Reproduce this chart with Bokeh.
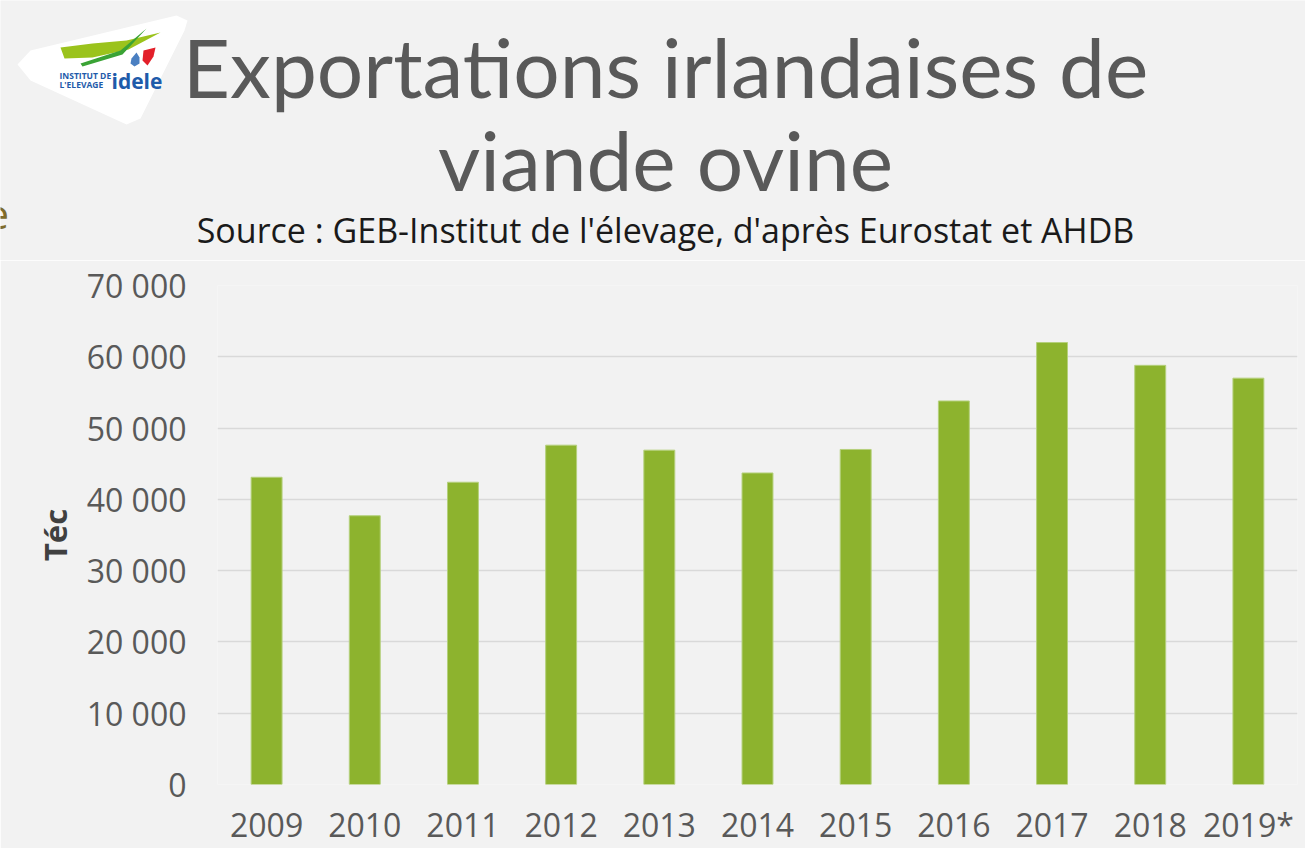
from bokeh.plotting import figure
from bokeh.models import Range1d, FactorRange, FixedTicker, ColumnDataSource
from bokeh.core.properties import value
from bokeh.embed import file_html
from bokeh.resources import INLINE

# ---- data ----
years = ["2009", "2010", "2011", "2012", "2013", "2014", "2015", "2016", "2017", "2018", "2019*"]
exports_tec = [43100, 37700, 42400, 47600, 46900, 43700, 47000, 53800, 62000, 58800, 57000]
y_ticks = [0, 10000, 20000, 30000, 40000, 50000, 60000, 70000]
y_tick_labels = ["0", "10 000", "20 000", "30 000", "40 000", "50 000", "60 000", "70 000"]

title_lines = ["Exportations irlandaises de", "viande ovine"]
subtitle = "Source : GEB-Institut de l'élevage, d'après Eurostat et AHDB"
y_label = "Téc"

BG = "#F2F2F2"
GREY = "#595959"
BAR = "#8DB32E"
FONT = "Open Sans"
W = 1305
HEAD_H = 260

# ---------------- header (title, subtitle, logo) ----------------
h = figure(width=W, height=HEAD_H, x_range=Range1d(0, W), y_range=Range1d(HEAD_H, 0),
           output_backend="svg", toolbar_location=None,
           x_axis_location=None, y_axis_location=None,
           min_border=0, min_border_left=0, min_border_right=0, min_border_top=0, min_border_bottom=0)
h.background_fill_color = BG
h.border_fill_color = BG
h.outline_line_color = None
h.grid.visible = False

# logo (decoration)
h.patch([17, 30, 176, 187, 184, 140, 126, 30], [64, 50, 15, 20, 30, 118, 124, 80],
        fill_color="white", line_color=None)
h.patch([60, 92, 126, 160, 128, 92, 64], [47, 43, 40, 32, 49, 57, 58],
        fill_color="#9BC31C", line_color=None)
h.patch([80, 120, 146, 122, 82], [63, 50, 28, 54, 66], fill_color="#3AA335", line_color=None)
h.patch([143, 155, 153, 147, 142], [50, 47, 56, 65, 60], fill_color="#E3202A", line_color=None)
h.patch([136, 131, 130, 134, 139, 139], [52, 58, 63, 66, 63, 57], fill_color="#4A7FC1", line_color=None)
h.text(x=[59, 59], y=[75, 84], text=["INSTITUT DE", "L'ELEVAGE"], text_font=value(FONT),
       text_font_size="8.5px", text_font_style="bold", text_color="#1E5BAA",
       text_baseline="middle", text_align="left")
h.text(x=[111], y=[80], text=["idele"], text_font=value(FONT), text_font_size="21px",
       text_font_style="bold", text_color="#1E5BAA", text_baseline="middle", text_align="left")
# stray clipped letter at the left edge (as in the reference)
h.text(x=[-14], y=[214], text=["e"], text_font=value(FONT), text_font_size="40px",
       text_color="#7F6B2A", text_baseline="alphabetic", text_align="left")

# titles
h.text(x=[665, 665], y=[65, 158], text=title_lines, text_font=value("Lato"),
       text_font_size="82px", text_color=GREY, text_baseline="alphabetic", text_align="center")
h.text(x=[665], y=[229], text=[subtitle], text_font=value(FONT), text_font_size="34px",
       text_color="#1A1A1A", text_baseline="alphabetic", text_align="center")

# ---------------- main chart ----------------
src = ColumnDataSource(dict(year=years, val=exports_tec))
p = figure(
    width=W, height=848 - HEAD_H,
    x_range=FactorRange(factors=years, range_padding=0),
    y_range=Range1d(0, 70000),
    output_backend="svg", toolbar_location=None,
    min_border_left=217, min_border_right=8, min_border_top=285 - HEAD_H, min_border_bottom=63,
)
p.background_fill_color = BG
p.border_fill_color = BG
p.outline_line_color = None

p.vbar(x="year", top="val", width=0.315, source=src, fill_color=BAR,
       line_color="#B5D07C", line_width=1)

p.yaxis.ticker = FixedTicker(ticks=y_ticks)
p.yaxis.major_label_overrides = {t: l for t, l in zip(y_ticks, y_tick_labels)}
for ax in (p.xaxis[0], p.yaxis[0]):
    ax.axis_line_color = None
    ax.major_tick_line_color = None
    ax.minor_tick_line_color = None
    ax.major_tick_out = 0
    ax.major_tick_in = 0
    ax.minor_tick_out = 0
    ax.major_label_text_font = FONT
    ax.major_label_text_font_size = "32px"
    ax.major_label_text_color = GREY
p.yaxis.major_label_standoff = 31
p.xaxis.major_label_standoff = 18
p.yaxis.axis_label = y_label
p.yaxis.axis_label_text_font = FONT
p.yaxis.axis_label_text_font_size = "31px"
p.yaxis.axis_label_text_font_style = "bold"
p.yaxis.axis_label_text_color = "#404040"
p.yaxis.axis_label_standoff = 8

p.xgrid.grid_line_color = None
p.ygrid.grid_line_color = "#D9D9D9"
p.ygrid.grid_line_width = 1.5

html = file_html([h, p], INLINE)
html = html.replace("<body>", '<body style="background-color:#F2F2F2;">', 1)
open("out.html", "w").write(html)
